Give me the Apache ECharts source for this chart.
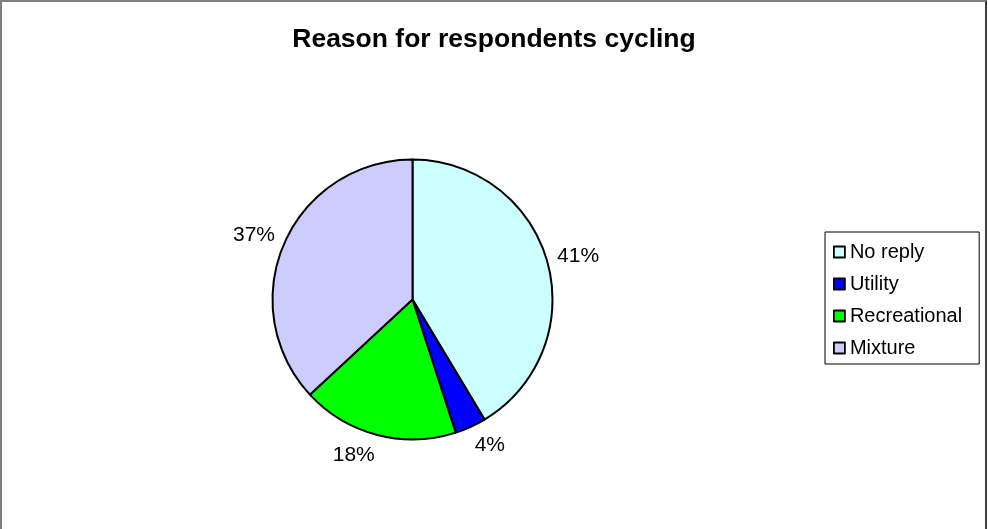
<!DOCTYPE html>
<html>
<head>
<meta charset="utf-8">
<script src="https://cdn.jsdelivr.net/npm/echarts@6/dist/echarts.min.js"></script>
<style>
  html, body { margin: 0; padding: 0; background: #fff; }
  #frame {
    position: absolute; left: 0; top: 0;
    width: 987px; height: 529px;
    border-left: 2px solid #808080;
    border-top: 2px solid #808080;
    border-right: 2px solid #404040;
    box-sizing: border-box;
  }
  #chart { position: absolute; left: 0; top: 0; width: 988px; height: 529px; }
</style>
</head>
<body>
<div id="frame"></div>
<div id="chart"></div>
<script>
// data
const categories = ['No reply', 'Utility', 'Recreational', 'Mixture']
const shares = [41.4, 3.6, 18.1, 36.9]
const colors = ['#CCFFFF', '#0000FF', '#00FF00', '#CCCCFF']

const cx = 412.5
const cy = 299.5
const radius = 140
const labelDist = 150

// mid angle of each slice, clockwise from 12 o'clock
const total = shares.reduce((a, b) => a + b, 0)
const midAngles = []
let acc = 0
shares.forEach(v => {
  midAngles.push((acc + v / 2) / total * Math.PI * 2)
  acc += v
})

const chart = echarts.init(document.getElementById('chart'), null, { renderer: 'canvas' })

const option = {
  animation: false,
  title: {
    text: 'Reason for respondents cycling',
    left: 'center',
    top: 21,
    textStyle: {
      fontFamily: 'Liberation Sans, Arial, sans-serif',
      fontSize: 26.5,
      fontWeight: 'bold',
      color: '#000'
    }
  },
  legend: {
    orient: 'vertical',
    left: 825,
    top: 232,
    padding: [10, 17, 6, 8],
    itemGap: 12,
    itemWidth: 11,
    itemHeight: 11,
    icon: 'rect',
    backgroundColor: '#fff',
    borderColor: '#000',
    borderWidth: 1,
    borderRadius: 0,
    itemStyle: { borderColor: '#000', borderWidth: 1.8 },
    textStyle: {
      fontFamily: 'Liberation Sans, Arial, sans-serif',
      fontSize: 20,
      lineHeight: 20,
      color: '#000'
    },
    data: categories
  },
  series: [
    {
      name: 'Reason',
      type: 'pie',
      center: [cx, cy],
      radius: radius,
      startAngle: 90,
      clockwise: true,
      itemStyle: { borderColor: '#000', borderWidth: 2 },
      label: {
        show: true,
        position: 'outside',
        formatter: p => Math.round(p.percent) + '%',
        fontFamily: 'Liberation Sans, Arial, sans-serif',
        fontSize: 21,
        color: '#000'
      },
      labelLine: { show: false },
      // Excel-like: anchor just outside the rim, box pushed away from the pie
      labelLayout: params => {
        const a = midAngles[params.dataIndex]
        const ux = Math.sin(a)
        const uy = -Math.cos(a)
        const w = params.labelRect.width
        const h = params.labelRect.height
        return {
          x: cx + labelDist * ux + Math.sign(ux) * w / 2,
          y: cy + labelDist * uy + uy * h / 2,
          align: 'center',
          verticalAlign: 'middle'
        }
      },
      emphasis: { disabled: true },
      data: categories.map((name, i) => ({
        name,
        value: shares[i],
        itemStyle: { color: colors[i] }
      }))
    }
  ]
}

chart.setOption(option)
</script>
</body>
</html>
